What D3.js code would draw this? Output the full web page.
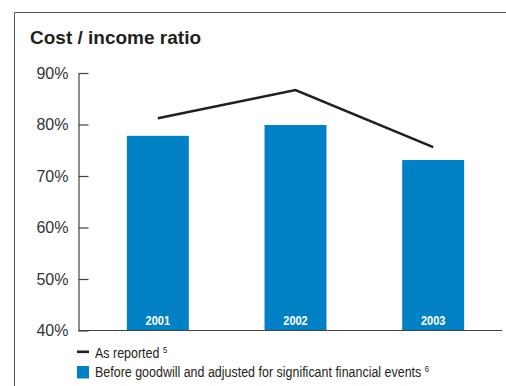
<!DOCTYPE html>
<html>
<head>
<meta charset="utf-8">
<script src="https://cdn.jsdelivr.net/npm/d3@7"></script>
<style>
  html, body { margin: 0; padding: 0; background: #fff; }
  svg { display: block; }
</style>
</head>
<body>
<svg id="chart" width="506" height="386"></svg>
<script>
// Cost / income ratio, 2001–2003
const years = ["2001", "2002", "2003"];
const adjustedRatio = [77.8, 79.9, 73.1];   // before goodwill, adjusted (bars)
const reportedRatio = [81.2, 86.7, 75.6];   // as reported (line)
const yTicks = [40, 50, 60, 70, 80, 90];

const blue = "#0081c6";
const ink = "#231f20";
const axisGrey = "#444";
const sans = "Liberation Sans, Arial, sans-serif";
const condenseYear = 0.88;    // horizontal squeeze for the year captions
const condenseLegend = 0.86;  // horizontal squeeze for the legend text

const svg = d3.select("#chart");

// panel frame (left and top rules)
svg.append("path")
  .attr("d", "M14.5,386V12.5H506")
  .attr("fill", "none")
  .attr("stroke", "#555")
  .attr("stroke-width", 1);

svg.append("text")
  .attr("x", 30).attr("y", 43.5)
  .attr("font-family", sans)
  .attr("font-weight", "bold")
  .attr("font-size", 19)
  .attr("fill", ink)
  .text("Cost / income ratio");

const plotLeft = 78, plotRight = 502;

const y = d3.scaleLinear().domain([40, 90]).range([330.5, 73]);
const x = d3.scaleBand().domain(years).range([89, 502])
  .paddingInner(0.55).paddingOuter(0.275);

// y axis: ticks point into the plot
const yAxis = d3.axisLeft(y)
  .tickValues(yTicks)
  .tickFormat(d => d + "%")
  .tickSizeInner(-10)
  .tickSizeOuter(0)
  .tickPadding(10);

const gy = svg.append("g")
  .attr("transform", `translate(${plotLeft + 0.5},0)`)
  .call(yAxis);
gy.select(".domain").attr("stroke", axisGrey).attr("stroke-width", 1.2);
gy.selectAll(".tick line").attr("stroke", axisGrey).attr("stroke-width", 1.2);
gy.selectAll(".tick text")
  .attr("font-family", sans)
  .attr("font-size", 16)
  .attr("fill", "#333");

// bars
svg.append("g").selectAll("rect")
  .data(years)
  .join("rect")
  .attr("x", d => x(d))
  .attr("width", x.bandwidth())
  .attr("y", (d, i) => y(adjustedRatio[i]))
  .attr("height", (d, i) => y(40) - y(adjustedRatio[i]))
  .attr("fill", blue);

// year labels inside the bars
svg.append("g").selectAll("text")
  .data(years)
  .join("text")
  .attr("transform", d => `translate(${x(d) + x.bandwidth() / 2},${y(40) - 5.5}) scale(${condenseYear},1)`)
  .attr("text-anchor", "middle")
  .attr("font-family", sans)
  .attr("font-weight", "bold")
  .attr("font-size", 12.5)
  .attr("fill", "#fff")
  .text(d => d);

// x axis baseline
svg.append("line")
  .attr("x1", plotLeft).attr("x2", plotRight)
  .attr("y1", y(40)).attr("y2", y(40))
  .attr("stroke", axisGrey).attr("stroke-width", 1.2);

// as-reported line
const line = d3.line()
  .x((d, i) => x(years[i]) + x.bandwidth() / 2)
  .y(d => y(d));

svg.append("path")
  .datum(reportedRatio)
  .attr("d", line)
  .attr("fill", "none")
  .attr("stroke", ink)
  .attr("stroke-width", 2.6);

// legend
const legend = svg.append("g");
legend.append("line")
  .attr("x1", 77).attr("x2", 89).attr("y1", 351.8).attr("y2", 351.8)
  .attr("stroke", ink).attr("stroke-width", 2.6);
legend.append("rect")
  .attr("x", 77).attr("y", 366).attr("width", 12).attr("height", 12.5)
  .attr("fill", blue);

const legendItems = [
  { label: "As reported", note: "5", base: 358 },
  { label: "Before goodwill and adjusted for significant financial events", note: "6", base: 377 }
];
legend.selectAll("text.item")
  .data(legendItems)
  .join("text")
  .attr("class", "item")
  .attr("transform", d => `translate(95,${d.base}) scale(${condenseLegend},1)`)
  .attr("font-family", sans)
  .attr("font-size", 14.5)
  .attr("fill", ink)
  .each(function(d) {
    const t = d3.select(this);
    t.append("tspan").text(d.label + " ");
    t.append("tspan").attr("font-size", 9).attr("dy", -5).text(d.note);
  });
</script>
</body>
</html>
